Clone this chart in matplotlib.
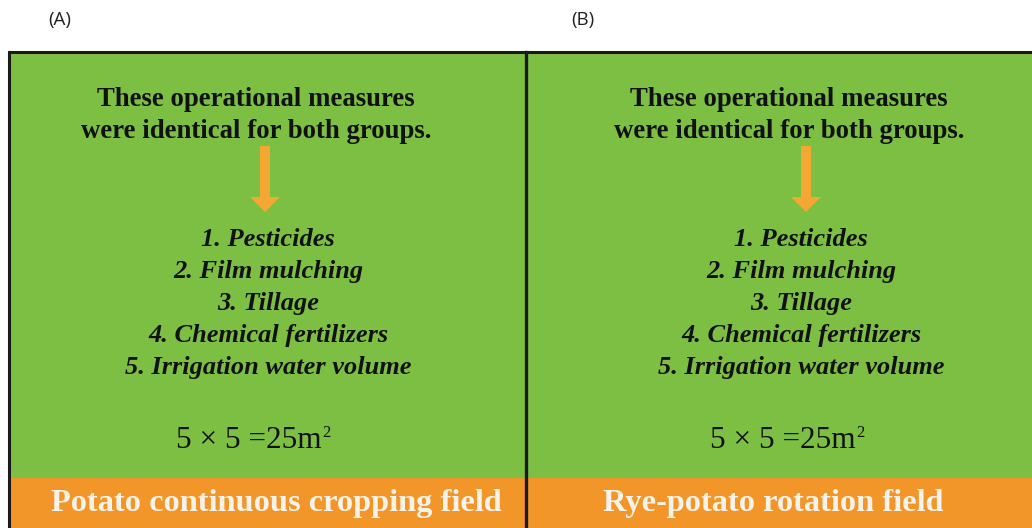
import matplotlib
matplotlib.use("Agg")
import matplotlib.pyplot as plt
from matplotlib.patches import Rectangle, FancyArrow

W, H = 1032, 528
panel_labels = ["(A)", "(B)"]
header_lines = ["These operational measures", "were identical for both groups."]
measures = ["1. Pesticides", "2. Film mulching", "3. Tillage",
            "4. Chemical fertilizers", "5. Irrigation water volume"]
area_text = "5 \u00d7 5 =25m"
area_sup = "2"
field_names = ["Potato continuous cropping field", "Rye-potato rotation field"]

GREEN = "#7dbf43"
ORANGE = "#f3962a"
ARROW = "#f5a733"
SERIF = ["Liberation Serif", "DejaVu Serif"]

fig = plt.figure(figsize=(W / 100, H / 100), dpi=100)
ax = fig.add_axes([0, 0, 1, 1])
ax.set_xlim(0, W)
ax.set_ylim(H, 0)
ax.axis("off")

panels = [
    dict(x0=9, x1=526, lab_x=60, hdr_x=256, arr_x=265, list_x=268, area_x=255, name_x=276),
    dict(x0=526, x1=1032, lab_x=583, hdr_x=789, arr_x=806, list_x=801, area_x=789, name_x=773),
]
top, orange_top = 52, 478

fig.canvas.draw()
renderer = fig.canvas.get_renderer()

for i, p in enumerate(panels):
    ax.add_patch(Rectangle((p["x0"], top), p["x1"] - p["x0"], H - top,
                           facecolor=GREEN, edgecolor="none", zorder=1))
    ax.add_patch(Rectangle((p["x0"], orange_top), p["x1"] - p["x0"], H - orange_top,
                           facecolor=ORANGE, edgecolor="none", zorder=2))
    ax.text(p["lab_x"], 20, panel_labels[i], ha="center", va="center",
            fontsize=13.5, family=["Open Sans", "DejaVu Sans"], color="#222222")
    for j, line in enumerate(header_lines):
        ax.text(p["hdr_x"], 100 + j * 31, line, ha="center", va="center",
                fontsize=19.3, fontweight="bold", family=SERIF, color="#111111", zorder=3)
    ax.add_patch(FancyArrow(p["arr_x"], 146, 0, 66, width=10, head_width=30,
                            head_length=15, length_includes_head=True,
                            facecolor=ARROW, edgecolor="none", zorder=3))
    for j, m in enumerate(measures):
        ax.text(p["list_x"], 240 + j * 31.8, m, ha="center", va="center",
                fontsize=19, fontweight="bold", fontstyle="italic",
                family=SERIF, color="#111111", zorder=3)
    t = ax.text(p["area_x"] - 6, 440, area_text, ha="center", va="center",
                fontsize=22.5, family=SERIF, color="#111111", zorder=3)
    bb = t.get_window_extent(renderer=renderer)
    xr = bb.x1
    ax.text(xr, 433, area_sup, ha="left", va="center", fontsize=12,
            family=SERIF, color="#111111", zorder=3)
    ax.text(p["name_x"], 504, field_names[i], ha="center", va="center",
            fontsize=23.3, fontweight="bold", family=SERIF, color="#f7f3ea", zorder=3)

ax.plot([9, 1032], [top, top], color="#1a1a1a", lw=2.2, zorder=4, solid_capstyle="butt")
ax.plot([9, 9], [top, H], color="#1a1a1a", lw=2.2, zorder=4)
ax.plot([526, 526], [top, H], color="#1a1a1a", lw=2.4, zorder=4)

fig.savefig("out.png", dpi=100)
